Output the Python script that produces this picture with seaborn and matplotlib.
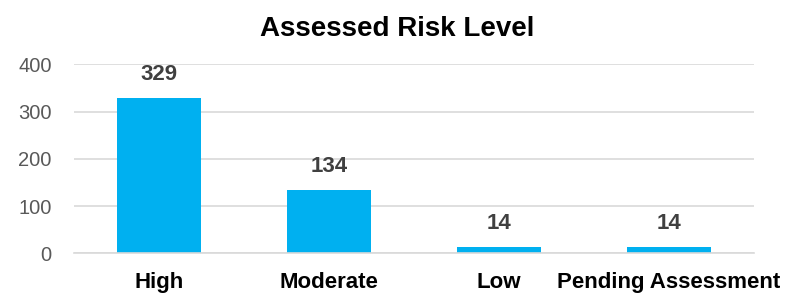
import matplotlib
matplotlib.use("Agg")
import matplotlib.pyplot as plt
import seaborn as sns
import pandas as pd
import numpy as np

categories = ["High", "Moderate", "Low", "Pending Assessment"]
counts = [329, 134, 14, 14]
y_ticks = [0, 100, 200, 300, 400]

sns.set_theme(style="white")
plt.rcParams['font.family'] = ['Liberation Sans', 'DejaVu Sans']

df = pd.DataFrame({"category": categories, "count": counts})

fig = plt.figure(figsize=(7.94, 2.94), dpi=100)
ax = fig.add_axes([74/794, 1-253.3/294, 680/794, (253.3-64.3)/294])

sns.barplot(data=df, x="category", y="count", color="#00B0F0", saturation=1,
            width=0.49, ax=ax, edgecolor="none")

ax.set_ylim(0, 400)
ax.set_xlim(-0.5, 3.5)
ax.set_yticks(y_ticks)
ax.set_yticklabels([str(t) for t in y_ticks], fontsize=14.5, color="#595959")
ax.grid(axis="y", color="#d9d9d9", linewidth=1.2)
ax.set_axisbelow(True)
for s in ["top", "right", "left"]:
    ax.spines[s].set_visible(False)
ax.spines["bottom"].set_color("#d9d9d9")
ax.spines["bottom"].set_linewidth(1.2)

ax.set_xticks(range(len(categories)))
ax.set_xticklabels(categories, fontsize=16, fontweight="bold", color="black")
ax.set_xticks(np.arange(-0.5, len(categories), 1.0), minor=True)
ax.tick_params(axis="x", which="major", length=0, pad=13.5)
ax.tick_params(axis="x", which="minor", length=5, width=1.2, color="#d9d9d9", direction="out")
ax.tick_params(axis="y", length=0, pad=16)
ax.set_xlabel("")
ax.set_ylabel("")

for i, v in enumerate(counts):
    ax.annotate(str(v), (i, v), xytext=(0, 17), textcoords="offset points",
                ha="center", va="center", fontsize=16, fontweight="bold", color="#404040")

fig.text(0.5, 1-29/294, "Assessed Risk Level", ha="center", va="center",
         fontsize=20, fontweight="bold", color="black")

fig.savefig("out.png", dpi=100)
